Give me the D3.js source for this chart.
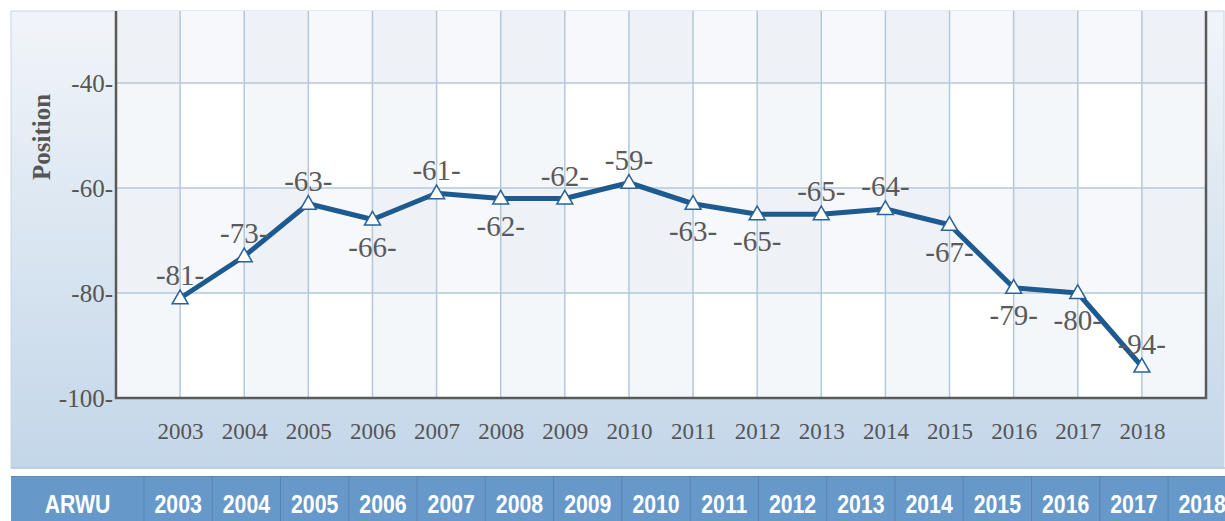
<!DOCTYPE html>
<html>
<head>
<meta charset="utf-8">
<script src="https://cdn.jsdelivr.net/npm/d3@7"></script>
<style>
  body { margin: 0; background: #fff; }
  svg { display: block; }
</style>
</head>
<body>
<script>
// chart data
var years = [2003, 2004, 2005, 2006, 2007, 2008, 2009, 2010, 2011, 2012, 2013, 2014, 2015, 2016, 2017, 2018];
var positions = [-81, -73, -63, -66, -61, -62, -62, -59, -63, -65, -65, -64, -67, -79, -80, -94];
var yTicks = [-40, -60, -80, -100];
var tableHead = "ARWU";
var tableYears = [2003, 2004, 2005, 2006, 2007, 2008, 2009, 2010, 2011, 2012, 2013, 2014, 2015, 2016, 2017, 2018];
// which labels sit above their point (1) or below (0)
var labelAbove = [1, 1, 1, 0, 1, 0, 1, 1, 0, 0, 1, 1, 0, 0, 0, 1];

var width = 1225, height = 521;
var svgContainer = d3.select("body").append("svg")
  .attr("width", width).attr("height", height);

var defs = svgContainer.append("defs");
var grad = defs.append("linearGradient").attr("id", "panelGrad")
  .attr("x1", 0).attr("y1", 0).attr("x2", 0).attr("y2", 1);
grad.append("stop").attr("offset", "0%").attr("stop-color", "#f1f5f9");
grad.append("stop").attr("offset", "100%").attr("stop-color", "#c3d6e9");

// panel
svgContainer.append("rect")
  .attr("x", 11).attr("y", 11).attr("width", width - 12).attr("height", 457)
  .attr("fill", "url(#panelGrad)")
  .attr("stroke", "#c9d6e3").attr("stroke-width", 1);
svgContainer.append("line")
  .attr("x1", 11).attr("x2", width).attr("y1", 468).attr("y2", 468)
  .attr("stroke", "#b9cadb").attr("stroke-width", 1.5);

// scales
var plotLeft = 116, plotRight = 1206, plotTop = 11, plotBottom = 398;
var x = d3.scaleLinear().domain([2002, 2019]).range([plotLeft, plotRight]);
var y = d3.scaleLinear().domain([-100, -40]).range([plotBottom, 83]);
var yTop = y.invert(plotTop);

// plot background
svgContainer.append("rect")
  .attr("x", plotLeft).attr("y", plotTop)
  .attr("width", plotRight - plotLeft).attr("height", plotBottom - plotTop)
  .attr("fill", "#ffffff");

var colBands = d3.range(2002, 2019, 2);
svgContainer.selectAll(".colband").data(colBands).enter().append("rect")
  .attr("class", "colband")
  .attr("x", function(d) { return x(d); })
  .attr("width", function(d) { return x(d + 1) - x(d); })
  .attr("y", plotTop).attr("height", plotBottom - plotTop)
  .attr("fill", "#dbe5ee").attr("opacity", 0.3);

var rowBands = [[-80, -60], [-40, yTop]];
svgContainer.selectAll(".rowband").data(rowBands).enter().append("rect")
  .attr("class", "rowband")
  .attr("x", plotLeft).attr("width", plotRight - plotLeft)
  .attr("y", function(d) { return y(d[1]); })
  .attr("height", function(d) { return y(d[0]) - y(d[1]); })
  .attr("fill", "#dbe5ee").attr("opacity", 0.25);

// grid
svgContainer.selectAll(".vgrid").data(years).enter().append("line")
  .attr("class", "vgrid")
  .attr("x1", function(d) { return x(d); }).attr("x2", function(d) { return x(d); })
  .attr("y1", plotTop).attr("y2", plotBottom)
  .attr("stroke", "#b4c8da").attr("stroke-width", 1.5);
svgContainer.selectAll(".hgrid").data(yTicks.slice(0, 3)).enter().append("line")
  .attr("class", "hgrid")
  .attr("x1", plotLeft).attr("x2", plotRight)
  .attr("y1", function(d) { return y(d); }).attr("y2", function(d) { return y(d); })
  .attr("stroke", "#b4c8da").attr("stroke-width", 1.5);

// frame
svgContainer.append("path")
  .attr("d", "M" + plotLeft + "," + plotTop + "V" + plotBottom + "H" + plotRight + "V" + plotTop)
  .attr("fill", "none").attr("stroke", "#5a5a5a").attr("stroke-width", 2.5);

var serif = "'Liberation Serif', 'Times New Roman', serif";

// axes
var yAxis = d3.axisLeft(y).tickValues(yTicks).tickSize(0).tickPadding(3)
  .tickFormat(function(d) { return d + "-"; });
var gy = svgContainer.append("g").attr("transform", "translate(" + plotLeft + ",0)").call(yAxis);
gy.select(".domain").remove();
gy.selectAll("text")
  .attr("font-family", serif)
  .attr("font-size", 25).attr("fill", "#555").attr("dy", "0.33em");

var xAxis = d3.axisBottom(x).tickValues(years).tickSize(0).tickPadding(0)
  .tickFormat(d3.format("d"));
var gx = svgContainer.append("g").attr("transform", "translate(0," + plotBottom + ")").call(xAxis);
gx.select(".domain").remove();
gx.selectAll("text")
  .attr("font-family", serif)
  .attr("font-size", 23).attr("fill", "#555").attr("y", 41).attr("dy", 0);

svgContainer.append("text")
  .attr("transform", "translate(50,137) rotate(-90)")
  .attr("text-anchor", "middle")
  .attr("font-family", serif)
  .attr("font-weight", "bold").attr("font-size", 25).attr("fill", "#555")
  .text("Position");

// line
var points = years.map(function(d, i) { return { year: d, value: positions[i], above: labelAbove[i] }; });
var lineFunction = d3.line()
  .x(function(d) { return x(d.year); })
  .y(function(d) { return y(d.value); });
svgContainer.append("path")
  .attr("d", lineFunction(points))
  .attr("fill", "none").attr("stroke", "#1d5a8f").attr("stroke-width", 5)
  .attr("stroke-linejoin", "round");

svgContainer.selectAll(".marker").data(points).enter().append("path")
  .attr("class", "marker")
  .attr("d", d3.symbol().type(d3.symbolTriangle).size(110))
  .attr("transform", function(d) { return "translate(" + x(d.year) + "," + (y(d.value) + 1) + ")"; })
  .attr("fill", "#fff").attr("stroke", "#2a6397").attr("stroke-width", 1.5);

svgContainer.selectAll(".vlabel").data(points).enter().append("text")
  .attr("class", "vlabel")
  .attr("x", function(d) { return x(d.year); })
  .attr("y", function(d) { return y(d.value) + (d.above ? -13 : 37); })
  .attr("text-anchor", "middle")
  .attr("font-family", serif)
  .attr("font-size", 29).attr("fill", "#5a5a5a")
  .text(function(d) { return d.value + "-"; });

// table header
var tableTop = 476;
svgContainer.append("rect")
  .attr("x", 11).attr("y", tableTop).attr("width", width - 11).attr("height", height - tableTop)
  .attr("fill", "#6798ca");
svgContainer.append("line")
  .attr("x1", 11).attr("x2", width).attr("y1", tableTop + 0.5).attr("y2", tableTop + 0.5)
  .attr("stroke", "#5b8bbd").attr("stroke-width", 1);
var cellW = 68.27, firstW = 133;
var cx = function(i) { return 11 + firstW + i * cellW; };
svgContainer.selectAll(".tsep").data(tableYears).enter().append("line")
  .attr("class", "tsep")
  .attr("x1", function(d, i) { return cx(i); }).attr("x2", function(d, i) { return cx(i); })
  .attr("y1", tableTop).attr("y2", height)
  .attr("stroke", "#5883b4").attr("stroke-width", 1);
var tfont = "'Liberation Sans', Arial, sans-serif";
svgContainer.append("text")
  .attr("transform", "translate(" + (11 + firstW / 2) + ",513) scale(0.85,1)")
  .attr("text-anchor", "middle").attr("font-family", tfont)
  .attr("font-weight", "bold").attr("font-size", 25).attr("fill", "#fff")
  .text(tableHead);
svgContainer.selectAll(".tyear").data(tableYears).enter().append("text")
  .attr("class", "tyear")
  .attr("transform", function(d, i) { return "translate(" + (cx(i) + cellW / 2) + ",513) scale(0.85,1)"; })
  .attr("text-anchor", "middle").attr("font-family", tfont)
  .attr("font-weight", "bold").attr("font-size", 25).attr("fill", "#fff")
  .text(function(d) { return d; });
</script>
</body>
</html>
